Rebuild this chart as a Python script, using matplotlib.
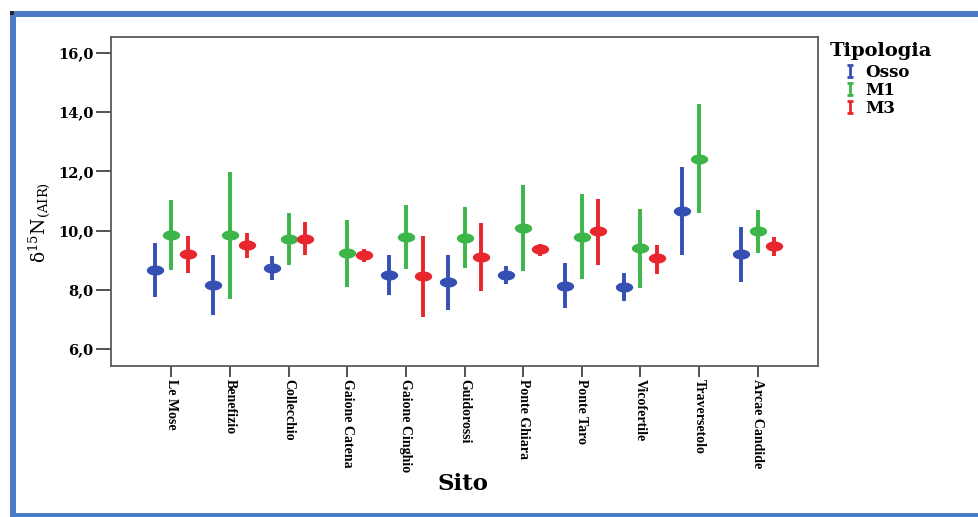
import numpy as np
import matplotlib
matplotlib.use("Agg")
import matplotlib.pyplot as plt
from matplotlib.path import Path
from matplotlib.lines import Line2D

sites = ["Le Mose", "Benefizio", "Collecchio", "Gaione Catena", "Gaione Cinghio",
         "Guidorossi", "Ponte Ghiara", "Ponte Taro", "Vicofertile", "Traversetolo",
         "Arcae Candide"]

nan = np.nan
osso_mean = [8.66, 8.16, 8.75, nan, 8.49, 8.25, 8.50, 8.13, 8.11, 10.66, 9.20]
osso_low = [7.77, 7.16, 8.33, nan, 7.82, 7.32, 8.19, 7.38, 7.63, 9.17, 8.25]
osso_high = [9.57, 9.18, 9.14, nan, 9.18, 9.17, 8.81, 8.89, 8.56, 12.15, 10.12]

m1_mean = [9.84, 9.84, 9.73, 9.23, 9.77, 9.75, 10.10, 9.78, 9.40, 12.43, 9.98]
m1_low = [8.67, 7.69, 8.84, 8.11, 8.70, 8.72, 8.64, 8.36, 8.07, 10.58, 9.23]
m1_high = [11.03, 11.98, 10.58, 10.35, 10.85, 10.79, 11.55, 11.22, 10.74, 14.27, 10.69]

m3_mean = [9.20, 9.50, 9.73, 9.17, 8.45, 9.11, 9.37, 9.98, 9.06, nan, 9.48]
m3_low = [8.58, 9.06, 9.17, 8.94, 7.07, 7.95, 9.14, 8.84, 8.55, nan, 9.14]
m3_high = [9.82, 9.93, 10.29, 9.39, 9.82, 10.24, 9.54, 11.08, 9.51, nan, 9.78]

groups = ["Osso", "M1", "M3"]
y_ticks = [6.0, 8.0, 10.0, 12.0, 14.0, 16.0]

colors = {"Osso": "#3550b2", "M1": "#3cb648", "M3": "#e8262e"}
offsets = {"Osso": -0.285, "M1": 0.0, "M3": 0.285}
series = {
    "Osso": (osso_mean, osso_low, osso_high),
    "M1": (m1_mean, m1_low, m1_high),
    "M3": (m3_mean, m3_low, m3_high),
}

plt.rcParams["mathtext.fontset"] = "dejavuserif"

W, H = 979, 517
fig = plt.figure(figsize=(W / 100, H / 100), dpi=100)
fig.patch.set_facecolor("white")

# blue frame
frame_c = "#4a7bc4"
fig.add_artist(plt.Rectangle((10 / W, 1 - 17 / H), 1 - 10 / W, 6 / H,
                             transform=fig.transFigure, color=frame_c, lw=0))
fig.add_artist(plt.Rectangle((10 / W, 1 - 517 / H), 6 / W, (517 - 11) / H,
                             transform=fig.transFigure, color=frame_c, lw=0))
fig.add_artist(plt.Rectangle((10 / W, 0), 1 - 10 / W, 4 / H,
                             transform=fig.transFigure, color=frame_c, lw=0))
fig.add_artist(plt.Rectangle((10 / W, 1 - 15 / H), 4 / W, 4 / H,
                             transform=fig.transFigure, color="#222222", lw=0))

L, R, T, B = 111, 818, 37, 366
ax = fig.add_axes([L / W, 1 - B / H, (R - L) / W, (B - T) / H])

# elliptical marker
t = np.linspace(0, 2 * np.pi, 60)
ell = Path(np.column_stack([np.cos(t), 0.58 * np.sin(t)]))

x = np.arange(len(sites))
for g in groups:
    mean, low, high = (np.array(a, dtype=float) for a in series[g])
    ok = ~np.isnan(mean)
    xx = x[ok] + offsets[g]
    ax.vlines(xx, low[ok], high[ok], color=colors[g], lw=2.8, zorder=2)
    ax.plot(xx, mean[ok], ls="none", marker=ell, markersize=12.5,
            color=colors[g], markeredgewidth=0, zorder=3)

ax.set_xlim(-1.03, 11.03)
ax.set_ylim(5.43, 16.53)
ax.set_yticks(y_ticks)
ax.set_yticklabels([f"{v:.1f}".replace(".", ",") for v in y_ticks],
                   fontfamily="DejaVu Serif", fontweight="bold", fontsize=10.5)
ax.set_xticks(x)
ax.set_xticklabels(sites, rotation=-90, fontfamily="Liberation Serif",
                   fontweight="bold", fontsize=10, va="top", ha="center")
ax.tick_params(axis="y", length=11, width=1.3, color="#444444", pad=1.5)
ax.tick_params(axis="x", length=8, width=1.3, color="#444444", pad=1.5)
for s in ax.spines.values():
    s.set_color("#5a5a5a")
    s.set_linewidth(1.3)

fig.text(463 / W, 1 - 484 / H, "Sito", fontfamily="DejaVu Serif",
         fontweight="bold", fontsize=16.5, ha="center", va="center")
fig.text(40 / W, 1 - 222 / H, "δ$^{15}$N$_{\\mathrm{(AIR)}}$",
         fontfamily="DejaVu Serif", fontsize=13.5, rotation=90,
         ha="center", va="center")

# legend
fig.text(830 / W, 1 - 51 / H, "Tipologia", fontfamily="DejaVu Serif",
         fontweight="bold", fontsize=14, ha="left", va="center")
ibar = Path([(-0.45, -1), (0.45, -1), (0, -1), (0, 1), (-0.45, 1), (0.45, 1)],
            [Path.MOVETO, Path.LINETO, Path.MOVETO, Path.LINETO, Path.MOVETO, Path.LINETO])
handles = [Line2D([], [], ls="none", marker=ibar, markersize=9, markeredgewidth=2,
                  markeredgecolor=colors[g], markerfacecolor="none") for g in groups]
leg = fig.legend(handles, groups, loc="upper left",
                 bbox_to_anchor=(843 / W, 1 - 64 / H), frameon=False,
                 handlelength=0.8, handletextpad=0.55,
                 labelspacing=0.05, borderpad=0.0, borderaxespad=0.0,
                 prop={"family": "DejaVu Serif", "weight": "bold", "size": 12})

fig.savefig("out.png", dpi=100, facecolor="white")
